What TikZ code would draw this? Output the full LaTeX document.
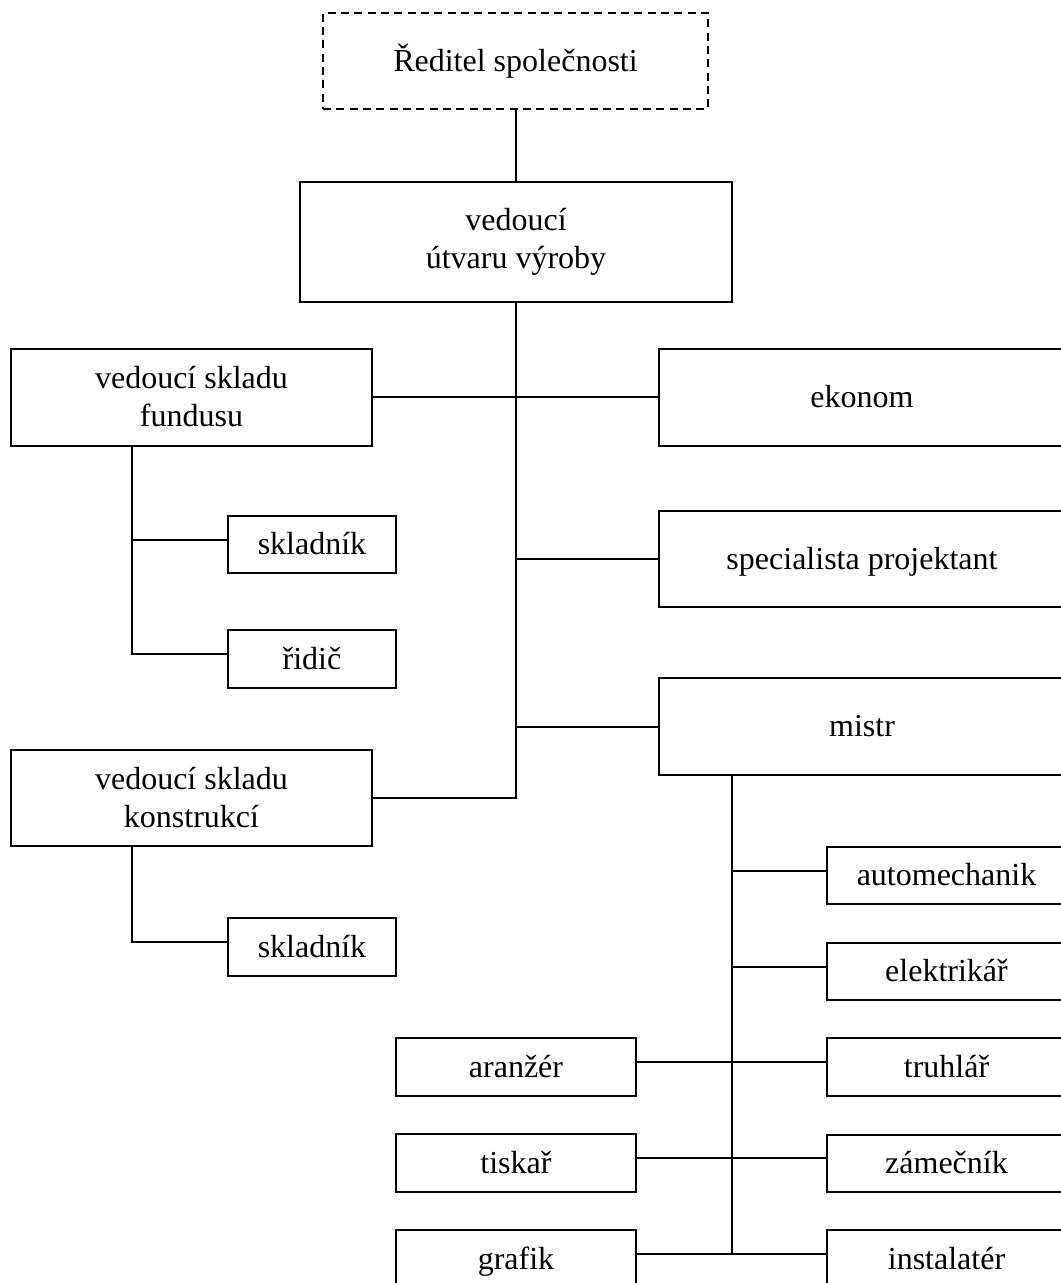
\documentclass[tikz,border=0pt]{standalone}
\usepackage{fontspec}
\setmainfont{Liberation Serif}
\begin{document}
\begin{tikzpicture}[x=0.75pt,y=-0.75pt,
  box/.style 2 args={draw, line width=1.5pt, inner sep=0pt, align=center,
    minimum width=#1*0.75pt, minimum height=#2*0.75pt,
    font=\fontsize{24}{28.5}\selectfont},
  oneline/.style={text height=20pt, text depth=5pt},
  conn/.style={line width=1.5pt},
  up/.style={yshift=3.75pt}]
\useasboundingbox (0,0) rectangle (1061,1283);
\clip (0,0) rectangle (1061,1283);
\fill[white] (0,0) rectangle (1061,1283);

\node[box={385}{96}, oneline, dashed, dash pattern=on 6pt off 4pt] (red) at (515.5,61) {Ředitel společnosti};
\node[box={432}{120}] (ved) at (516,242) {vedoucí\\útvaru výroby};
\node[box={361}{97}] (fund) at (191.5,397) {vedoucí skladu\\fundusu};
\node[box={406}{97}, oneline] (ekon) at (862,397) {ekonom};
\node[box={168}{57}, oneline] (sk1) at (312,544.5) {skladník};
\node[box={168}{58}, oneline] (rid) at (312,659) {řidič};
\node[box={406}{96}, oneline] (spec) at (862,559) {specialista projektant};
\node[box={406}{97}, oneline] (mistr) at (862,726.5) {mistr};
\node[box={361}{96}] (konst) at (191.5,798) {vedoucí skladu\\konstrukcí};
\node[box={168}{58}, oneline] (sk2) at (312,947) {skladník};
\node[box={239}{57}, oneline] (auto) at (946.5,875.5) {automechanik};
\node[box={239}{57}, oneline] (elek) at (946.5,971.5) {elektrikář};
\node[box={239}{58}, oneline] (truh) at (946.5,1067) {truhlář};
\node[box={239}{57}, oneline] (zame) at (946.5,1163) {zámečník};
\node[box={239}{58}, oneline] (inst) at (946.5,1259) {instalatér};
\node[box={240}{58}, oneline] (aran) at (516,1067) {aranžér};
\node[box={240}{58}, oneline] (tisk) at (516,1163) {tiskař};
\node[box={240}{58}, oneline] (graf) at (516,1259) {grafik};

\coordinate (tb) at (516,798);
\coordinate (fb) at (132,654);
\coordinate (mb) at (732,1255);

\draw[conn] (red.south) -- (red.south |- ved.north);
\draw[conn] (ved.south) -- (tb) -- (konst.east);
\draw[conn] (fund.east) -- (ekon.west);
\draw[conn] (spec.west) -- (spec.west -| tb);
\draw[conn] (mistr.west) -- (mistr.west -| tb);

\draw[conn] (fund.south -| fb) -- (fb) -- ([up]rid.west);
\draw[conn] ([up]sk1.west) -- ([up]sk1.west -| fb);
\draw[conn] (konst.south -| fb) |- ([up]sk2.west);

\draw[conn] (mistr.south -| mb) -- (mb);
\draw[conn] ([up]auto.west) -- ([up]auto.west -| mb);
\draw[conn] ([up]elek.west) -- ([up]elek.west -| mb);
\draw[conn] ([up]aran.east) -- ([up]truh.west);
\draw[conn] ([up]tisk.east) -- ([up]zame.west);
\draw[conn] ([up]graf.east) -- ([up]inst.west);
\end{tikzpicture}
\end{document}
